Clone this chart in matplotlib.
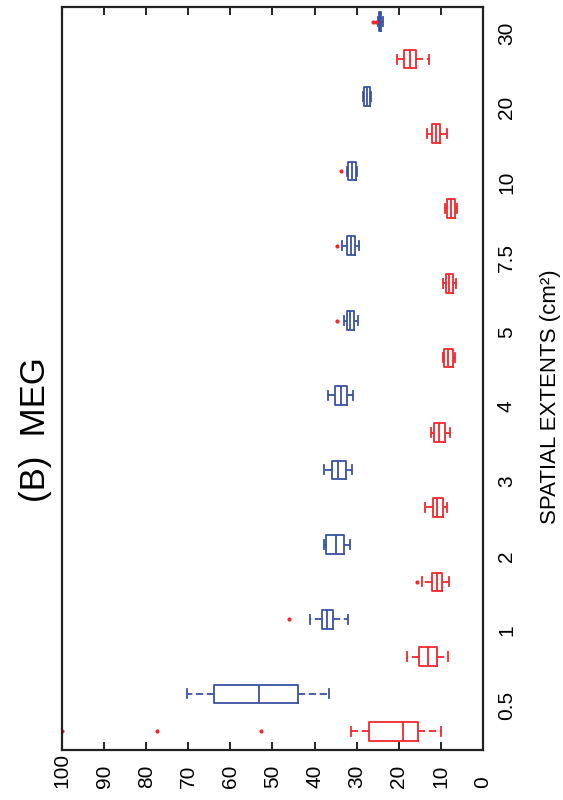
import numpy as np
import matplotlib.pyplot as plt

plt.rcParams['font.family'] = ['Liberation Sans', 'DejaVu Sans']

extents = ['0.5', '1', '2', '3', '4', '5', '7.5', '10', '20', '30']

# red series: (whislo, q1, med, q3, whishi)
red_lo = [10.0, 8.3, 8.1, 8.6, 7.8, 6.7, 6.4, 6.2, 8.6, 12.8]
red_q1 = [15.4, 10.9, 9.7, 9.5, 9.0, 7.1, 7.1, 6.7, 10.2, 15.9]
red_med = [19.0, 13.1, 10.9, 10.9, 10.5, 8.3, 8.1, 7.6, 11.2, 17.3]
red_q3 = [27.1, 15.2, 12.1, 11.9, 11.6, 9.3, 8.8, 8.6, 12.1, 18.8]
red_hi = [31.4, 18.1, 14.5, 13.8, 12.4, 9.5, 9.5, 9.0, 13.3, 20.4]
red_out = [[100, 77.5, 52.7], [], [15.7], [], [], [], [], [], [], []]

# blue series
blue_lo = [36.6, 32.1, 31.6, 31.1, 30.9, 29.7, 29.5, 29.9, 26.6, 23.8]
blue_q1 = [43.9, 35.6, 33.0, 32.5, 32.3, 30.6, 30.4, 30.2, 26.8, 24.2]
blue_med = [53.2, 37.1, 34.9, 34.4, 33.7, 31.6, 31.4, 31.1, 27.6, 24.5]
blue_q3 = [63.9, 38.2, 37.3, 35.9, 35.2, 32.3, 32.3, 32.1, 28.3, 24.7]
blue_hi = [70.3, 41.1, 37.8, 37.8, 36.8, 33.0, 33.5, 32.3, 28.5, 25.0]
blue_out = [[], [46.1], [], [], [], [34.7], [34.7], [33.7], [], [26.1, 25.4]]

RED = '#f2262c'
BLUE = '#3a52a3'


def stats(lo, q1, med, q3, hi, out):
    return [dict(whislo=a, q1=b, med=c, q3=d, whishi=e, fliers=f)
            for a, b, c, d, e, f in zip(lo, q1, med, q3, hi, out)]


fig = plt.figure(figsize=(5.63, 8.0), dpi=100)
ax = fig.add_axes([0.110, 0.0625, 0.748, 0.929])

idx = np.arange(len(extents))
for st, pos, col in [(stats(red_lo, red_q1, red_med, red_q3, red_hi, red_out), idx - 0.35, RED),
                     (stats(blue_lo, blue_q1, blue_med, blue_q3, blue_hi, blue_out), idx + 0.15, BLUE)]:
    ax.bxp(st, positions=pos, widths=0.25, capwidths=0.12,
           orientation='horizontal', showfliers=True,
           boxprops=dict(color=col, lw=1.3),
           medianprops=dict(color=col, lw=1.3),
           whiskerprops=dict(color=col, lw=1.3, ls=(0, (4, 2))),
           capprops=dict(color=col, lw=1.3),
           flierprops=dict(marker='.', markersize=4, markerfacecolor=RED,
                           markeredgecolor=RED, ls='none'))

ax.set_xlim(100, 0)
ax.set_ylim(-0.6, 9.35)
ax.set_xticks(np.arange(0, 101, 10))
ax.set_yticks(idx)
ax.set_yticklabels(extents)
ax.yaxis.tick_right()
ax.tick_params(axis='x', direction='in', top=True, length=6, width=1.2,
               labelsize=15, pad=27)
ax.tick_params(axis='y', length=0, labelsize=15, pad=10)
plt.setp(ax.get_xticklabels(), rotation=90, va='bottom')
plt.setp(ax.get_yticklabels(), rotation=90, va='center')
for s in ax.spines.values():
    s.set_linewidth(1.6)
    s.set_color('#222222')

ax.yaxis.set_label_position('right')
ax.set_ylabel('SPATIAL EXTENTS (cm²)', fontsize=16, rotation=90)
ax.yaxis.set_label_coords(1.135, 0.475)

fig.text(35 / 563, 1 - 430 / 800, '(B)  MEG', rotation=90, fontsize=25,
         ha='center', va='center')

fig.savefig('out.png', dpi=100)
